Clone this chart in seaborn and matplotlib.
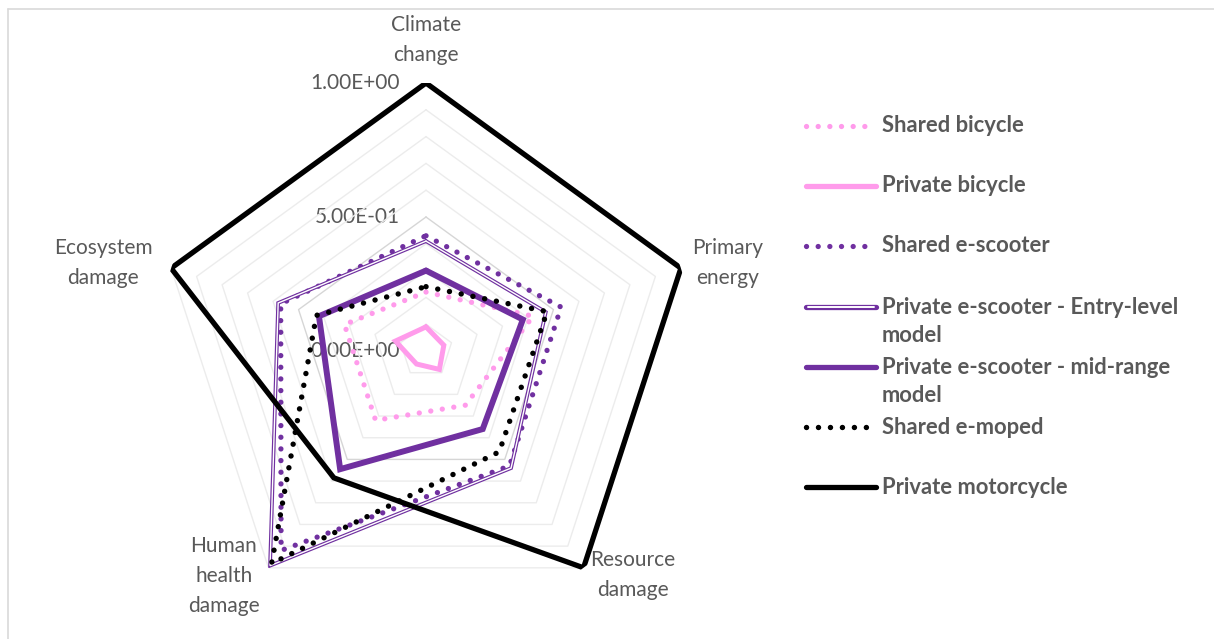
import numpy as np
import matplotlib.pyplot as plt
import matplotlib.transforms as mtransforms
import seaborn as sns

# axes of the radar, clockwise from the top
categories = ["Climate\nchange", "Primary\nenergy", "Resource\ndamage",
              "Human\nhealth\ndamage", "Ecosystem\ndamage"]

# normalised impact scores
shared_bicycle = [0.22, 0.42, 0.25, 0.32, 0.32]
private_bicycle = [0.09, 0.07, 0.085, 0.06, 0.12]
shared_escooter = [0.43, 0.53, 0.53, 0.92, 0.57]
private_escooter_entry = [0.41, 0.47, 0.54, 0.99, 0.58]
private_escooter_mid = [0.30, 0.38, 0.36, 0.545, 0.42]
shared_emoped = [0.24, 0.475, 0.465, 0.98, 0.43]
private_motorcycle = [1.0, 1.0, 1.0, 0.585, 1.0]

series_names = ["Shared bicycle", "Private bicycle", "Shared e-scooter",
                "Private e-scooter - Entry-level\nmodel",
                "Private e-scooter - mid-range\nmodel",
                "Shared e-moped", "Private motorcycle"]
series_values = [shared_bicycle, private_bicycle, shared_escooter,
                 private_escooter_entry, private_escooter_mid,
                 shared_emoped, private_motorcycle]

tick_values = [0.0, 0.5, 1.0]
tick_labels = ["0.00E+00", "5.00E-01", "1.00E+00"]

PINK = "#FF9BEB"
PURPLE = "#7030A0"
BLACK = "#000000"
TEXT = "#595959"
DOTS = (0, (0.01, 2.2))

styles = [
    dict(color=PINK, lw=3.8, linestyle=DOTS, dash_capstyle="round"),
    dict(color=PINK, lw=3.6, solid_joinstyle="miter"),
    dict(color=PURPLE, lw=3.8, linestyle=DOTS, dash_capstyle="round"),
    "double",
    dict(color=PURPLE, lw=4.3, solid_joinstyle="miter"),
    dict(color=BLACK, lw=3.9, linestyle=DOTS, dash_capstyle="round"),
    dict(color=BLACK, lw=3.8, solid_joinstyle="miter"),
]

sns.set_theme(style="white")
plt.rcParams["font.family"] = ["Lato", "DejaVu Sans"]

W, H = 1214, 639
fig = plt.figure(figsize=(W / 100, H / 100), dpi=100)

# pixel overlay for labels, legend and frame (under the radar lines)
lax = fig.add_axes([0, 0, 1, 1], zorder=0)
lax.set_xlim(0, W)
lax.set_ylim(H, 0)
lax.axis("off")

cx, cy, R = 426, 351, 268
ax = fig.add_axes([(cx - R) / W, (H - cy - R) / H, 2 * R / W, 2 * R / H],
                  projection="polar", zorder=1)
ax.patch.set_alpha(0)
ax.set_theta_offset(np.pi / 2)
ax.set_theta_direction(-1)

n = len(categories)
theta = np.linspace(0, 2 * np.pi, n, endpoint=False)
theta_closed = np.append(theta, 2 * np.pi)

# pentagon gridlines
for lvl in np.arange(1, 11) / 10:
    col = "#D6D6D6" if abs(lvl - 0.5) < 1e-9 else "#ECECEC"
    ax.plot(theta_closed, [lvl] * (n + 1), color=col, lw=1.0, zorder=1)

for vals, st in zip(series_values, styles):
    r = np.append(vals, vals[0])
    if st == "double":
        sns.lineplot(x=theta_closed, y=r, ax=ax, sort=False, color=PURPLE,
                     lw=2.7, solid_joinstyle="miter", zorder=3)
        sns.lineplot(x=theta_closed, y=r, ax=ax, sort=False, color="white",
                     lw=1.0, solid_joinstyle="miter", zorder=3)
    else:
        sns.lineplot(x=theta_closed, y=r, ax=ax, sort=False, zorder=3, **st)

ax.set_ylim(0, 1)
ax.set_xticks([])
ax.set_yticks([])
ax.grid(False)
ax.spines["polar"].set_visible(False)
ax.set_xlabel("")
ax.set_ylabel("")

offs = mtransforms.offset_copy(ax.transData, fig=fig, x=-26, y=0, units="dots")
for v, lab in zip(tick_values, tick_labels):
    ax.text(0, v, lab, transform=offs, ha="right", va="center",
            fontsize=15, color=TEXT, zorder=0.5)

# category labels
label_pos = [(426, 40), (728, 263), (633, 575), (224, 576), (103, 263)]
for lab, (x, y) in zip(categories, label_pos):
    lax.text(x, y, lab, ha="center", va="center", fontsize=15, color=TEXT,
             linespacing=1.62)

# legend
rows = [126, 186, 246, 307, 367, 427, 487]
for name, st, y in zip(series_names, styles, rows):
    xs = [806, 876]
    if st == "double":
        lax.plot(xs, [y, y], color=PURPLE, lw=3.8, solid_capstyle="round")
        lax.plot([808, 874], [y, y], color="white", lw=1.4)
    else:
        s = dict(st)
        s["lw"] = 3.8 if "linestyle" not in s else s["lw"]
        if "linestyle" in s:
            xs = [806, 870]
        lax.plot(xs, [y, y], **s, solid_capstyle="round")
    for i, line in enumerate(name.split("\n")):
        lax.text(882, y + 29 * i, line, ha="left", va="center", fontsize=15.8,
                 fontweight="bold", color=TEXT)

# chart area frame
lax.plot([8, 8], [H, 8.5], color="#D9D9D9", lw=1.2)
lax.plot([8, W], [8.5, 8.5], color="#D9D9D9", lw=1.2)

fig.savefig("out.png", dpi=100)
